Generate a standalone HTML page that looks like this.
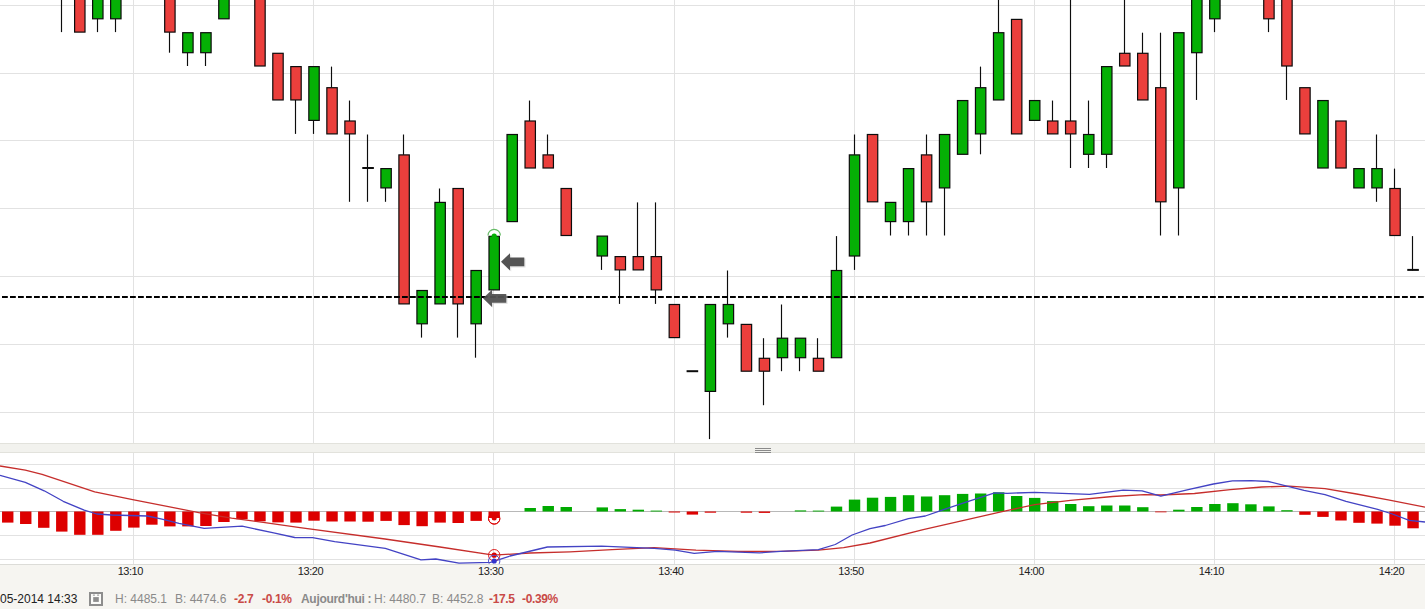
<!DOCTYPE html><html><head><meta charset="utf-8"><style>
html,body{margin:0;padding:0;width:1425px;height:609px;overflow:hidden;background:#fff;}
body{position:relative;font-family:"Liberation Sans",sans-serif;}
.tl{position:absolute;top:565px;font-size:11px;color:#222;width:60px;text-align:center;line-height:13px;letter-spacing:-0.45px;}
.ft{position:absolute;top:591px;left:0;font-size:12px;line-height:16px;white-space:nowrap;}
.g{color:#8a8a8a}.r{color:#c94a47;font-weight:bold;letter-spacing:-0.35px}.k{color:#222}.b{color:#8a8a8a;font-weight:bold;letter-spacing:-0.3px}
</style></head><body>
<svg width="1425" height="609" viewBox="0 0 1425 609" style="position:absolute;left:0;top:0"><rect x="0" y="0" width="1425" height="443" fill="#ffffff"/><line x1="0" y1="5.5" x2="1425" y2="5.5" stroke="#e2e2e2" stroke-width="1"/><line x1="0" y1="73.5" x2="1425" y2="73.5" stroke="#e2e2e2" stroke-width="1"/><line x1="0" y1="140.5" x2="1425" y2="140.5" stroke="#e2e2e2" stroke-width="1"/><line x1="0" y1="208.5" x2="1425" y2="208.5" stroke="#e2e2e2" stroke-width="1"/><line x1="0" y1="276.5" x2="1425" y2="276.5" stroke="#e2e2e2" stroke-width="1"/><line x1="0" y1="344.5" x2="1425" y2="344.5" stroke="#e2e2e2" stroke-width="1"/><line x1="0" y1="412.5" x2="1425" y2="412.5" stroke="#e2e2e2" stroke-width="1"/><line x1="133.5" y1="0" x2="133.5" y2="443" stroke="#e2e2e2" stroke-width="1"/><line x1="313.5" y1="0" x2="313.5" y2="443" stroke="#e2e2e2" stroke-width="1"/><line x1="493.5" y1="0" x2="493.5" y2="443" stroke="#e2e2e2" stroke-width="1"/><line x1="674.5" y1="0" x2="674.5" y2="443" stroke="#e2e2e2" stroke-width="1"/><line x1="854.5" y1="0" x2="854.5" y2="443" stroke="#e2e2e2" stroke-width="1"/><line x1="1034.5" y1="0" x2="1034.5" y2="443" stroke="#e2e2e2" stroke-width="1"/><line x1="1214.5" y1="0" x2="1214.5" y2="443" stroke="#e2e2e2" stroke-width="1"/><line x1="1394.5" y1="0" x2="1394.5" y2="443" stroke="#e2e2e2" stroke-width="1"/><line x1="61.5" y1="-15.04" x2="61.5" y2="32.10" stroke="#0c0c0c" stroke-width="1.15"/><rect x="74.60" y="-14.44" width="10.40" height="46.54" fill="#eb3f3c" stroke="#0c0c0c" stroke-width="1.2"/><line x1="97.5" y1="18.80" x2="97.5" y2="32.10" stroke="#0c0c0c" stroke-width="1.15"/><rect x="92.61" y="-14.44" width="10.40" height="33.24" fill="#05b005" stroke="#0c0c0c" stroke-width="1.2"/><line x1="115.5" y1="18.80" x2="115.5" y2="32.10" stroke="#0c0c0c" stroke-width="1.15"/><rect x="110.63" y="-14.44" width="10.40" height="33.24" fill="#05b005" stroke="#0c0c0c" stroke-width="1.2"/><line x1="169.5" y1="32.10" x2="169.5" y2="52.70" stroke="#0c0c0c" stroke-width="1.15"/><rect x="164.68" y="-14.44" width="10.40" height="46.54" fill="#eb3f3c" stroke="#0c0c0c" stroke-width="1.2"/><line x1="187.5" y1="52.70" x2="187.5" y2="66.00" stroke="#0c0c0c" stroke-width="1.15"/><rect x="182.70" y="32.70" width="10.40" height="20.00" fill="#05b005" stroke="#0c0c0c" stroke-width="1.2"/><line x1="205.5" y1="52.70" x2="205.5" y2="66.00" stroke="#0c0c0c" stroke-width="1.15"/><rect x="200.72" y="32.70" width="10.40" height="20.00" fill="#05b005" stroke="#0c0c0c" stroke-width="1.2"/><rect x="218.73" y="-14.44" width="10.40" height="33.24" fill="#05b005" stroke="#0c0c0c" stroke-width="1.2"/><rect x="254.77" y="-14.44" width="10.40" height="80.44" fill="#eb3f3c" stroke="#0c0c0c" stroke-width="1.2"/><rect x="272.79" y="53.30" width="10.40" height="46.65" fill="#eb3f3c" stroke="#0c0c0c" stroke-width="1.2"/><line x1="295.5" y1="99.95" x2="295.5" y2="133.90" stroke="#0c0c0c" stroke-width="1.15"/><rect x="290.80" y="66.60" width="10.40" height="33.35" fill="#eb3f3c" stroke="#0c0c0c" stroke-width="1.2"/><line x1="313.5" y1="120.40" x2="313.5" y2="133.90" stroke="#0c0c0c" stroke-width="1.15"/><rect x="308.82" y="66.60" width="10.40" height="53.80" fill="#05b005" stroke="#0c0c0c" stroke-width="1.2"/><line x1="331.5" y1="66.60" x2="331.5" y2="87.70" stroke="#0c0c0c" stroke-width="1.15"/><rect x="326.84" y="87.70" width="10.40" height="46.20" fill="#eb3f3c" stroke="#0c0c0c" stroke-width="1.2"/><line x1="349.5" y1="100.55" x2="349.5" y2="121.00" stroke="#0c0c0c" stroke-width="1.15"/><line x1="349.5" y1="133.90" x2="349.5" y2="201.80" stroke="#0c0c0c" stroke-width="1.15"/><rect x="344.85" y="121.00" width="10.40" height="12.90" fill="#eb3f3c" stroke="#0c0c0c" stroke-width="1.2"/><line x1="367.5" y1="134.50" x2="367.5" y2="168.60" stroke="#0c0c0c" stroke-width="1.15"/><line x1="367.5" y1="168.00" x2="367.5" y2="201.80" stroke="#0c0c0c" stroke-width="1.15"/><line x1="362.27" y1="168.00" x2="373.87" y2="168.00" stroke="#0c0c0c" stroke-width="2"/><line x1="385.5" y1="187.90" x2="385.5" y2="201.80" stroke="#0c0c0c" stroke-width="1.15"/><rect x="380.89" y="168.60" width="10.40" height="19.30" fill="#05b005" stroke="#0c0c0c" stroke-width="1.2"/><line x1="403.5" y1="134.50" x2="403.5" y2="154.90" stroke="#0c0c0c" stroke-width="1.15"/><rect x="398.90" y="154.90" width="10.40" height="149.00" fill="#eb3f3c" stroke="#0c0c0c" stroke-width="1.2"/><line x1="421.5" y1="323.80" x2="421.5" y2="337.60" stroke="#0c0c0c" stroke-width="1.15"/><rect x="416.92" y="290.50" width="10.40" height="33.30" fill="#05b005" stroke="#0c0c0c" stroke-width="1.2"/><line x1="439.5" y1="188.50" x2="439.5" y2="202.40" stroke="#0c0c0c" stroke-width="1.15"/><rect x="434.94" y="202.40" width="10.40" height="101.50" fill="#05b005" stroke="#0c0c0c" stroke-width="1.2"/><line x1="457.5" y1="303.90" x2="457.5" y2="337.60" stroke="#0c0c0c" stroke-width="1.15"/><rect x="452.96" y="188.50" width="10.40" height="115.40" fill="#eb3f3c" stroke="#0c0c0c" stroke-width="1.2"/><line x1="475.5" y1="323.80" x2="475.5" y2="357.70" stroke="#0c0c0c" stroke-width="1.15"/><rect x="470.97" y="270.50" width="10.40" height="53.30" fill="#05b005" stroke="#0c0c0c" stroke-width="1.2"/><rect x="488.99" y="236.10" width="10.40" height="53.80" fill="#05b005" stroke="#0c0c0c" stroke-width="1.2"/><rect x="507.01" y="134.50" width="10.40" height="87.10" fill="#05b005" stroke="#0c0c0c" stroke-width="1.2"/><line x1="529.5" y1="100.55" x2="529.5" y2="121.00" stroke="#0c0c0c" stroke-width="1.15"/><rect x="525.02" y="121.00" width="10.40" height="47.00" fill="#eb3f3c" stroke="#0c0c0c" stroke-width="1.2"/><line x1="547.5" y1="134.50" x2="547.5" y2="154.90" stroke="#0c0c0c" stroke-width="1.15"/><rect x="543.04" y="154.90" width="10.40" height="13.10" fill="#eb3f3c" stroke="#0c0c0c" stroke-width="1.2"/><rect x="561.06" y="188.50" width="10.40" height="47.00" fill="#eb3f3c" stroke="#0c0c0c" stroke-width="1.2"/><line x1="601.5" y1="256.00" x2="601.5" y2="269.90" stroke="#0c0c0c" stroke-width="1.15"/><rect x="597.09" y="236.10" width="10.40" height="19.90" fill="#05b005" stroke="#0c0c0c" stroke-width="1.2"/><line x1="619.5" y1="269.90" x2="619.5" y2="303.90" stroke="#0c0c0c" stroke-width="1.15"/><rect x="615.11" y="256.60" width="10.40" height="13.30" fill="#eb3f3c" stroke="#0c0c0c" stroke-width="1.2"/><line x1="637.5" y1="202.40" x2="637.5" y2="256.60" stroke="#0c0c0c" stroke-width="1.15"/><rect x="633.13" y="256.60" width="10.40" height="13.30" fill="#eb3f3c" stroke="#0c0c0c" stroke-width="1.2"/><line x1="655.5" y1="202.40" x2="655.5" y2="256.60" stroke="#0c0c0c" stroke-width="1.15"/><line x1="655.5" y1="289.90" x2="655.5" y2="303.90" stroke="#0c0c0c" stroke-width="1.15"/><rect x="651.14" y="256.60" width="10.40" height="33.30" fill="#eb3f3c" stroke="#0c0c0c" stroke-width="1.2"/><rect x="669.16" y="304.50" width="10.40" height="33.10" fill="#eb3f3c" stroke="#0c0c0c" stroke-width="1.2"/><line x1="686.58" y1="371.20" x2="698.18" y2="371.20" stroke="#0c0c0c" stroke-width="2"/><line x1="709.5" y1="391.40" x2="709.5" y2="439.10" stroke="#0c0c0c" stroke-width="1.15"/><rect x="705.19" y="304.50" width="10.40" height="86.90" fill="#05b005" stroke="#0c0c0c" stroke-width="1.2"/><line x1="727.5" y1="270.50" x2="727.5" y2="304.50" stroke="#0c0c0c" stroke-width="1.15"/><line x1="727.5" y1="323.80" x2="727.5" y2="337.60" stroke="#0c0c0c" stroke-width="1.15"/><rect x="723.21" y="304.50" width="10.40" height="19.30" fill="#05b005" stroke="#0c0c0c" stroke-width="1.2"/><rect x="741.23" y="324.40" width="10.40" height="46.80" fill="#eb3f3c" stroke="#0c0c0c" stroke-width="1.2"/><line x1="763.5" y1="338.20" x2="763.5" y2="358.30" stroke="#0c0c0c" stroke-width="1.15"/><line x1="763.5" y1="371.20" x2="763.5" y2="405.20" stroke="#0c0c0c" stroke-width="1.15"/><rect x="759.24" y="358.30" width="10.40" height="12.90" fill="#eb3f3c" stroke="#0c0c0c" stroke-width="1.2"/><line x1="781.5" y1="304.50" x2="781.5" y2="338.20" stroke="#0c0c0c" stroke-width="1.15"/><line x1="781.5" y1="357.70" x2="781.5" y2="371.20" stroke="#0c0c0c" stroke-width="1.15"/><rect x="777.26" y="338.20" width="10.40" height="19.50" fill="#05b005" stroke="#0c0c0c" stroke-width="1.2"/><line x1="799.5" y1="357.70" x2="799.5" y2="371.20" stroke="#0c0c0c" stroke-width="1.15"/><rect x="795.28" y="338.20" width="10.40" height="19.50" fill="#05b005" stroke="#0c0c0c" stroke-width="1.2"/><line x1="817.5" y1="338.20" x2="817.5" y2="358.30" stroke="#0c0c0c" stroke-width="1.15"/><rect x="813.30" y="358.30" width="10.40" height="12.90" fill="#eb3f3c" stroke="#0c0c0c" stroke-width="1.2"/><line x1="836.5" y1="236.10" x2="836.5" y2="270.50" stroke="#0c0c0c" stroke-width="1.15"/><rect x="831.31" y="270.50" width="10.40" height="87.20" fill="#05b005" stroke="#0c0c0c" stroke-width="1.2"/><line x1="854.5" y1="134.50" x2="854.5" y2="154.90" stroke="#0c0c0c" stroke-width="1.15"/><line x1="854.5" y1="256.00" x2="854.5" y2="269.90" stroke="#0c0c0c" stroke-width="1.15"/><rect x="849.33" y="154.90" width="10.40" height="101.10" fill="#05b005" stroke="#0c0c0c" stroke-width="1.2"/><rect x="867.35" y="134.50" width="10.40" height="67.30" fill="#eb3f3c" stroke="#0c0c0c" stroke-width="1.2"/><line x1="890.5" y1="221.60" x2="890.5" y2="235.50" stroke="#0c0c0c" stroke-width="1.15"/><rect x="885.36" y="202.40" width="10.40" height="19.20" fill="#05b005" stroke="#0c0c0c" stroke-width="1.2"/><line x1="908.5" y1="221.60" x2="908.5" y2="235.50" stroke="#0c0c0c" stroke-width="1.15"/><rect x="903.38" y="168.60" width="10.40" height="53.00" fill="#05b005" stroke="#0c0c0c" stroke-width="1.2"/><line x1="926.5" y1="134.50" x2="926.5" y2="154.90" stroke="#0c0c0c" stroke-width="1.15"/><line x1="926.5" y1="201.80" x2="926.5" y2="235.50" stroke="#0c0c0c" stroke-width="1.15"/><rect x="921.40" y="154.90" width="10.40" height="46.90" fill="#eb3f3c" stroke="#0c0c0c" stroke-width="1.2"/><line x1="944.5" y1="187.90" x2="944.5" y2="235.50" stroke="#0c0c0c" stroke-width="1.15"/><rect x="939.41" y="134.50" width="10.40" height="53.40" fill="#05b005" stroke="#0c0c0c" stroke-width="1.2"/><rect x="957.43" y="100.55" width="10.40" height="53.75" fill="#05b005" stroke="#0c0c0c" stroke-width="1.2"/><line x1="980.5" y1="66.60" x2="980.5" y2="87.70" stroke="#0c0c0c" stroke-width="1.15"/><line x1="980.5" y1="133.90" x2="980.5" y2="154.30" stroke="#0c0c0c" stroke-width="1.15"/><rect x="975.45" y="87.70" width="10.40" height="46.20" fill="#05b005" stroke="#0c0c0c" stroke-width="1.2"/><line x1="998.5" y1="-14.44" x2="998.5" y2="32.70" stroke="#0c0c0c" stroke-width="1.15"/><rect x="993.47" y="32.70" width="10.40" height="67.25" fill="#05b005" stroke="#0c0c0c" stroke-width="1.2"/><rect x="1011.48" y="19.40" width="10.40" height="114.50" fill="#eb3f3c" stroke="#0c0c0c" stroke-width="1.2"/><rect x="1029.50" y="100.55" width="10.40" height="19.85" fill="#05b005" stroke="#0c0c0c" stroke-width="1.2"/><line x1="1052.5" y1="100.55" x2="1052.5" y2="121.00" stroke="#0c0c0c" stroke-width="1.15"/><rect x="1047.52" y="121.00" width="10.40" height="12.90" fill="#eb3f3c" stroke="#0c0c0c" stroke-width="1.2"/><line x1="1070.5" y1="-14.44" x2="1070.5" y2="121.00" stroke="#0c0c0c" stroke-width="1.15"/><line x1="1070.5" y1="133.90" x2="1070.5" y2="168.00" stroke="#0c0c0c" stroke-width="1.15"/><rect x="1065.53" y="121.00" width="10.40" height="12.90" fill="#eb3f3c" stroke="#0c0c0c" stroke-width="1.2"/><line x1="1088.5" y1="100.55" x2="1088.5" y2="134.50" stroke="#0c0c0c" stroke-width="1.15"/><line x1="1088.5" y1="154.30" x2="1088.5" y2="168.00" stroke="#0c0c0c" stroke-width="1.15"/><rect x="1083.55" y="134.50" width="10.40" height="19.80" fill="#05b005" stroke="#0c0c0c" stroke-width="1.2"/><line x1="1106.5" y1="154.30" x2="1106.5" y2="168.00" stroke="#0c0c0c" stroke-width="1.15"/><rect x="1101.57" y="66.60" width="10.40" height="87.70" fill="#05b005" stroke="#0c0c0c" stroke-width="1.2"/><line x1="1124.5" y1="-14.44" x2="1124.5" y2="53.30" stroke="#0c0c0c" stroke-width="1.15"/><rect x="1119.58" y="53.30" width="10.40" height="12.70" fill="#eb3f3c" stroke="#0c0c0c" stroke-width="1.2"/><line x1="1142.5" y1="32.70" x2="1142.5" y2="53.30" stroke="#0c0c0c" stroke-width="1.15"/><rect x="1137.60" y="53.30" width="10.40" height="46.65" fill="#eb3f3c" stroke="#0c0c0c" stroke-width="1.2"/><line x1="1160.5" y1="32.70" x2="1160.5" y2="87.70" stroke="#0c0c0c" stroke-width="1.15"/><line x1="1160.5" y1="201.80" x2="1160.5" y2="235.50" stroke="#0c0c0c" stroke-width="1.15"/><rect x="1155.62" y="87.70" width="10.40" height="114.10" fill="#eb3f3c" stroke="#0c0c0c" stroke-width="1.2"/><line x1="1178.5" y1="187.90" x2="1178.5" y2="235.50" stroke="#0c0c0c" stroke-width="1.15"/><rect x="1173.63" y="32.70" width="10.40" height="155.20" fill="#05b005" stroke="#0c0c0c" stroke-width="1.2"/><line x1="1196.5" y1="52.70" x2="1196.5" y2="99.95" stroke="#0c0c0c" stroke-width="1.15"/><rect x="1191.65" y="-14.44" width="10.40" height="67.14" fill="#05b005" stroke="#0c0c0c" stroke-width="1.2"/><line x1="1214.5" y1="18.80" x2="1214.5" y2="32.10" stroke="#0c0c0c" stroke-width="1.15"/><rect x="1209.67" y="-14.44" width="10.40" height="33.24" fill="#05b005" stroke="#0c0c0c" stroke-width="1.2"/><line x1="1268.5" y1="18.80" x2="1268.5" y2="32.10" stroke="#0c0c0c" stroke-width="1.15"/><rect x="1263.72" y="-14.44" width="10.40" height="33.24" fill="#eb3f3c" stroke="#0c0c0c" stroke-width="1.2"/><line x1="1286.5" y1="66.00" x2="1286.5" y2="99.95" stroke="#0c0c0c" stroke-width="1.15"/><rect x="1281.74" y="-14.44" width="10.40" height="80.44" fill="#eb3f3c" stroke="#0c0c0c" stroke-width="1.2"/><rect x="1299.75" y="87.70" width="10.40" height="46.20" fill="#eb3f3c" stroke="#0c0c0c" stroke-width="1.2"/><rect x="1317.77" y="100.55" width="10.40" height="67.45" fill="#05b005" stroke="#0c0c0c" stroke-width="1.2"/><rect x="1335.79" y="121.00" width="10.40" height="47.00" fill="#eb3f3c" stroke="#0c0c0c" stroke-width="1.2"/><rect x="1353.80" y="168.60" width="10.40" height="19.30" fill="#05b005" stroke="#0c0c0c" stroke-width="1.2"/><line x1="1376.5" y1="134.50" x2="1376.5" y2="168.60" stroke="#0c0c0c" stroke-width="1.15"/><line x1="1376.5" y1="187.90" x2="1376.5" y2="201.80" stroke="#0c0c0c" stroke-width="1.15"/><rect x="1371.82" y="168.60" width="10.40" height="19.30" fill="#05b005" stroke="#0c0c0c" stroke-width="1.2"/><line x1="1394.5" y1="168.60" x2="1394.5" y2="188.50" stroke="#0c0c0c" stroke-width="1.15"/><rect x="1389.84" y="188.50" width="10.40" height="47.00" fill="#eb3f3c" stroke="#0c0c0c" stroke-width="1.2"/><line x1="1412.5" y1="236.10" x2="1412.5" y2="270.50" stroke="#0c0c0c" stroke-width="1.15"/><line x1="1407.26" y1="269.90" x2="1418.86" y2="269.90" stroke="#0c0c0c" stroke-width="2"/><line x1="2" y1="297" x2="1425" y2="297" stroke="#000" stroke-width="2" stroke-dasharray="5.8 2.2"/><path d="M487.99,235.50 A6.2,6.2 0 0 1 500.39,235.50" fill="#fff" stroke="#66bb66" stroke-width="1.2"/><circle cx="494.19" cy="236.00" r="2.6" fill="#05b005"/><polygon points="502.2,263.0 511.2,254.4 511.2,258.6 525.5,258.6 525.5,267.4 511.2,267.4 511.2,271.6" fill="#cfcfcf" opacity="0.6"/><polygon points="501.0,261.8 510.0,253.2 510.0,257.4 524.3,257.4 524.3,266.2 510.0,266.2 510.0,270.4" fill="#545454" opacity="1.0"/><polygon points="484.2,299.5 493.2,290.9 493.2,295.1 507.5,295.1 507.5,303.9 493.2,303.9 493.2,308.1" fill="#cfcfcf" opacity="0.6"/><polygon points="483.0,298.3 492.0,289.7 492.0,293.9 506.3,293.9 506.3,302.7 492.0,302.7 492.0,306.9" fill="#4a4a4a" opacity="0.9"/><rect x="0" y="443" width="1425" height="10" fill="#f2f2ee"/><line x1="0" y1="443.5" x2="1425" y2="443.5" stroke="#e2e2dc" stroke-width="1"/><line x1="0" y1="452.5" x2="1425" y2="452.5" stroke="#e2e2dc" stroke-width="1"/><line x1="755" y1="448.5" x2="771" y2="448.5" stroke="#8a8a8a" stroke-width="1"/><line x1="755" y1="450.5" x2="771" y2="450.5" stroke="#8a8a8a" stroke-width="1"/><line x1="755" y1="452.5" x2="771" y2="452.5" stroke="#8a8a8a" stroke-width="1"/><rect x="0" y="453" width="1425" height="111" fill="#ffffff"/><line x1="0" y1="464.5" x2="1425" y2="464.5" stroke="#e2e2e2" stroke-width="1"/><line x1="0" y1="488.5" x2="1425" y2="488.5" stroke="#e2e2e2" stroke-width="1"/><line x1="0" y1="535.5" x2="1425" y2="535.5" stroke="#e2e2e2" stroke-width="1"/><line x1="0" y1="559.5" x2="1425" y2="559.5" stroke="#e2e2e2" stroke-width="1"/><line x1="133.5" y1="453" x2="133.5" y2="564" stroke="#e2e2e2" stroke-width="1"/><line x1="313.5" y1="453" x2="313.5" y2="564" stroke="#e2e2e2" stroke-width="1"/><line x1="493.5" y1="453" x2="493.5" y2="564" stroke="#e2e2e2" stroke-width="1"/><line x1="674.5" y1="453" x2="674.5" y2="564" stroke="#e2e2e2" stroke-width="1"/><line x1="854.5" y1="453" x2="854.5" y2="564" stroke="#e2e2e2" stroke-width="1"/><line x1="1034.5" y1="453" x2="1034.5" y2="564" stroke="#e2e2e2" stroke-width="1"/><line x1="1214.5" y1="453" x2="1214.5" y2="564" stroke="#e2e2e2" stroke-width="1"/><line x1="1394.5" y1="453" x2="1394.5" y2="564" stroke="#e2e2e2" stroke-width="1"/><line x1="0" y1="511.5" x2="1425" y2="511.5" stroke="#b8b8b8" stroke-width="1"/><rect x="2.03" y="511.5" width="11.4" height="11.10" fill="#dd0000"/><rect x="20.05" y="511.5" width="11.4" height="12.50" fill="#dd0000"/><rect x="38.06" y="511.5" width="11.4" height="16.30" fill="#dd0000"/><rect x="56.08" y="511.5" width="11.4" height="20.10" fill="#dd0000"/><rect x="74.10" y="511.5" width="11.4" height="23.30" fill="#dd0000"/><rect x="92.11" y="511.5" width="11.4" height="23.30" fill="#dd0000"/><rect x="110.13" y="511.5" width="11.4" height="19.30" fill="#dd0000"/><rect x="128.15" y="511.5" width="11.4" height="16.10" fill="#dd0000"/><rect x="146.17" y="511.5" width="11.4" height="13.20" fill="#dd0000"/><rect x="164.18" y="511.5" width="11.4" height="14.90" fill="#dd0000"/><rect x="182.20" y="511.5" width="11.4" height="14.90" fill="#dd0000"/><rect x="200.22" y="511.5" width="11.4" height="14.50" fill="#dd0000"/><rect x="218.23" y="511.5" width="11.4" height="10.50" fill="#dd0000"/><rect x="236.25" y="511.5" width="11.4" height="7.70" fill="#dd0000"/><rect x="254.27" y="511.5" width="11.4" height="9.80" fill="#dd0000"/><rect x="272.29" y="511.5" width="11.4" height="10.90" fill="#dd0000"/><rect x="290.30" y="511.5" width="11.4" height="11.10" fill="#dd0000"/><rect x="308.32" y="511.5" width="11.4" height="9.20" fill="#dd0000"/><rect x="326.34" y="511.5" width="11.4" height="10.00" fill="#dd0000"/><rect x="344.35" y="511.5" width="11.4" height="10.00" fill="#dd0000"/><rect x="362.37" y="511.5" width="11.4" height="10.20" fill="#dd0000"/><rect x="380.39" y="511.5" width="11.4" height="9.40" fill="#dd0000"/><rect x="398.40" y="511.5" width="11.4" height="13.60" fill="#dd0000"/><rect x="416.42" y="511.5" width="11.4" height="14.70" fill="#dd0000"/><rect x="434.44" y="511.5" width="11.4" height="11.10" fill="#dd0000"/><rect x="452.46" y="511.5" width="11.4" height="11.50" fill="#dd0000"/><rect x="470.47" y="511.5" width="11.4" height="9.40" fill="#dd0000"/><rect x="488.49" y="511.5" width="11.4" height="6.50" fill="#dd0000"/><rect x="524.52" y="508.00" width="11.4" height="3.50" fill="#00aa00"/><rect x="542.54" y="506.00" width="11.4" height="5.50" fill="#00aa00"/><rect x="560.56" y="507.00" width="11.4" height="4.50" fill="#00aa00"/><rect x="596.59" y="507.40" width="11.4" height="4.10" fill="#00aa00"/><rect x="614.61" y="509.10" width="11.4" height="2.40" fill="#00aa00"/><rect x="632.62" y="509.70" width="11.4" height="1.80" fill="#00aa00"/><rect x="650.64" y="510.60" width="11.4" height="0.90" fill="#00aa00"/><rect x="668.66" y="511.5" width="11.4" height="1.00" fill="#dd0000"/><rect x="686.68" y="511.5" width="11.4" height="3.10" fill="#dd0000"/><rect x="704.69" y="511.5" width="11.4" height="1.20" fill="#dd0000"/><rect x="740.73" y="511.5" width="11.4" height="1.20" fill="#dd0000"/><rect x="758.74" y="511.5" width="11.4" height="1.40" fill="#dd0000"/><rect x="794.78" y="510.40" width="11.4" height="1.10" fill="#00aa00"/><rect x="812.79" y="510.60" width="11.4" height="0.90" fill="#00aa00"/><rect x="830.81" y="506.60" width="11.4" height="4.90" fill="#00aa00"/><rect x="848.83" y="499.60" width="11.4" height="11.90" fill="#00aa00"/><rect x="866.85" y="497.70" width="11.4" height="13.80" fill="#00aa00"/><rect x="884.86" y="496.90" width="11.4" height="14.60" fill="#00aa00"/><rect x="902.88" y="495.20" width="11.4" height="16.30" fill="#00aa00"/><rect x="920.90" y="496.50" width="11.4" height="15.00" fill="#00aa00"/><rect x="938.91" y="495.20" width="11.4" height="16.30" fill="#00aa00"/><rect x="956.93" y="493.90" width="11.4" height="17.60" fill="#00aa00"/><rect x="974.95" y="493.50" width="11.4" height="18.00" fill="#00aa00"/><rect x="992.96" y="492.30" width="11.4" height="19.20" fill="#00aa00"/><rect x="1010.98" y="496.00" width="11.4" height="15.50" fill="#00aa00"/><rect x="1029.00" y="497.90" width="11.4" height="13.60" fill="#00aa00"/><rect x="1047.02" y="501.10" width="11.4" height="10.40" fill="#00aa00"/><rect x="1065.03" y="504.00" width="11.4" height="7.50" fill="#00aa00"/><rect x="1083.05" y="506.20" width="11.4" height="5.30" fill="#00aa00"/><rect x="1101.07" y="505.50" width="11.4" height="6.00" fill="#00aa00"/><rect x="1119.08" y="505.50" width="11.4" height="6.00" fill="#00aa00"/><rect x="1137.10" y="507.20" width="11.4" height="4.30" fill="#00aa00"/><rect x="1155.12" y="511.5" width="11.4" height="0.80" fill="#dd0000"/><rect x="1173.13" y="509.70" width="11.4" height="1.80" fill="#00aa00"/><rect x="1191.15" y="507.00" width="11.4" height="4.50" fill="#00aa00"/><rect x="1209.17" y="504.00" width="11.4" height="7.50" fill="#00aa00"/><rect x="1227.19" y="503.20" width="11.4" height="8.30" fill="#00aa00"/><rect x="1245.20" y="504.30" width="11.4" height="7.20" fill="#00aa00"/><rect x="1263.22" y="506.40" width="11.4" height="5.10" fill="#00aa00"/><rect x="1281.24" y="510.20" width="11.4" height="1.30" fill="#00aa00"/><rect x="1299.25" y="511.5" width="11.4" height="3.30" fill="#dd0000"/><rect x="1317.27" y="511.5" width="11.4" height="5.40" fill="#dd0000"/><rect x="1335.29" y="511.5" width="11.4" height="9.00" fill="#dd0000"/><rect x="1353.30" y="511.5" width="11.4" height="11.30" fill="#dd0000"/><rect x="1371.32" y="511.5" width="11.4" height="12.10" fill="#dd0000"/><rect x="1389.34" y="511.5" width="11.4" height="14.20" fill="#dd0000"/><rect x="1407.36" y="511.5" width="11.4" height="16.80" fill="#dd0000"/><path d="M488.49,518.4 A5.7,5.7 0 0 0 499.89,518.4" fill="#fff" stroke="#dd0000" stroke-width="1"/><circle cx="494.19" cy="518.4" r="5.7" fill="none" stroke="#dd0000" stroke-width="1"/><circle cx="494.19" cy="518" r="2.5" fill="#dd0000"/><clipPath id="lp"><rect x="0" y="453" width="1425" height="111.5"/></clipPath><g clip-path="url(#lp)"><polyline points="0.0,466.0 25.3,470.2 42.1,474.4 63.2,481.3 94.7,491.8 132.6,499.6 168.4,506.6 200.0,512.9 231.6,518.2 263.2,522.4 300.0,527.6 385.0,539.0 440.0,547.0 493.5,555.2 530.0,553.0 570.0,551.8 612.0,549.7 654.0,547.6 696.0,550.2 738.0,551.4 780.5,551.4 818.4,550.2 843.7,547.6 870.0,543.0 923.2,529.7 1003.2,511.4 1034.7,504.7 1070.5,500.3 1112.6,496.5 1144.2,494.6 1160.8,495.0 1194.5,493.5 1230.3,489.7 1261.8,487.0 1289.2,486.2 1325.0,488.7 1356.6,494.0 1388.2,499.8 1425.0,507.2" fill="none" stroke="#c62e2c" stroke-width="1.3" stroke-linejoin="round"/><polyline points="0.0,475.4 25.3,482.4 44.2,490.8 63.2,501.3 84.2,510.2 96.8,514.0 111.6,515.0 147.4,516.0 162.0,519.2 179.0,523.4 204.2,528.3 242.1,526.2 273.7,532.9 294.7,537.5 312.6,537.7 334.7,541.7 385.3,548.3 421.0,559.8 435.8,559.0 459.0,563.2 490.5,562.4 510.0,556.0 547.4,547.0 601.6,546.2 654.2,548.3 675.3,550.2 694.2,553.3 717.4,551.4 759.5,552.9 780.5,551.4 818.4,549.7 835.3,544.5 852.1,535.0 870.0,528.7 885.3,525.5 908.4,518.6 925.3,516.0 940.0,510.8 965.3,502.4 994.7,492.9 1007.4,493.3 1034.7,492.3 1089.5,494.4 1123.2,490.2 1142.1,490.8 1160.8,496.1 1188.2,489.7 1213.4,484.0 1232.4,480.9 1251.3,480.7 1268.2,481.5 1304.0,490.4 1325.0,494.6 1346.0,501.3 1377.6,509.3 1392.4,514.0 1409.2,520.3 1425.0,522.0" fill="none" stroke="#4343c4" stroke-width="1.3" stroke-linejoin="round"/><circle cx="494.19" cy="555.2" r="5.7" fill="none" stroke="#dd2222" stroke-width="1"/><circle cx="494.19" cy="555.2" r="2.6" fill="#dd0000"/><circle cx="494.19" cy="561" r="5.7" fill="none" stroke="#5555cc" stroke-width="1"/><circle cx="494.19" cy="561" r="2.6" fill="#3333cc"/></g><rect x="0" y="564" width="1425" height="45" fill="#f6f5f1"/><line x1="0" y1="564.5" x2="1425" y2="564.5" stroke="#dcdcd8" stroke-width="1"/></svg>
<div class="tl" style="left:100.3px">13:10</div>
<div class="tl" style="left:280.5px">13:20</div>
<div class="tl" style="left:460.7px">13:30</div>
<div class="tl" style="left:640.9px">13:40</div>
<div class="tl" style="left:821.0px">13:50</div>
<div class="tl" style="left:1001.2px">14:00</div>
<div class="tl" style="left:1181.4px">14:10</div>
<div class="tl" style="left:1361.5px">14:20</div>
<div class="ft" style="left:0px"><span class="k">05-2014 14:33</span></div>
<svg style="position:absolute;left:89px;top:592px" width="14" height="14" viewBox="0 0 14 14"><rect x="0" y="0" width="14" height="14" fill="#8d8d8d"/><rect x="2" y="2" width="10" height="10" fill="#fbfbf9"/><rect x="4.2" y="5.1" width="5.6" height="4.8" fill="#8d8d8d"/><rect x="3.9" y="2.6" width="2" height="1" fill="#8d8d8d"/><rect x="8.1" y="2.6" width="2" height="1" fill="#8d8d8d"/></svg>
<div class="ft" style="left:115px"><span class="g">H: 4485.1</span></div>
<div class="ft" style="left:175px"><span class="g">B: 4474.6</span></div>
<div class="ft" style="left:234px"><span class="r">-2.7</span></div>
<div class="ft" style="left:262px"><span class="r">-0.1%</span></div>
<div class="ft" style="left:301px"><span class="b">Aujourd'hui :</span></div>
<div class="ft" style="left:374px"><span class="g">H: 4480.7</span></div>
<div class="ft" style="left:432px"><span class="g">B: 4452.8</span></div>
<div class="ft" style="left:489px"><span class="r">-17.5</span></div>
<div class="ft" style="left:522px"><span class="r">-0.39%</span></div>
</body></html>
